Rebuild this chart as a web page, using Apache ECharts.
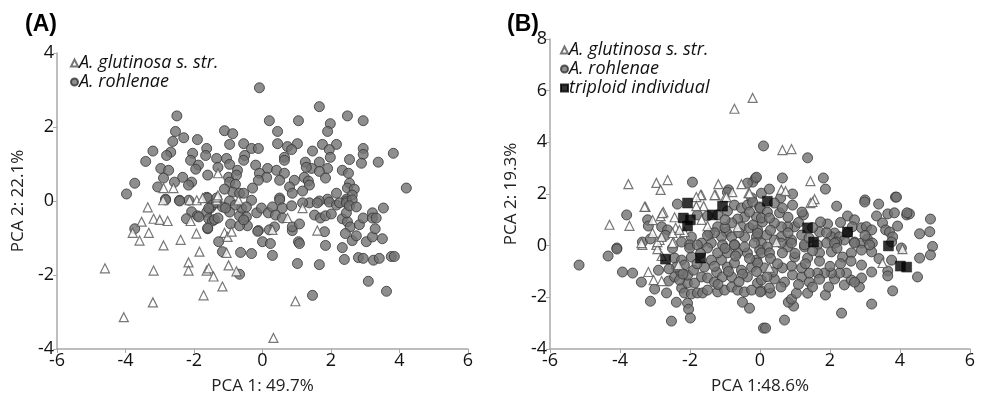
<!DOCTYPE html>
<html>
<head>
<meta charset="utf-8">
<script src="https://cdn.jsdelivr.net/npm/echarts@6/dist/echarts.min.js"></script>
<style>
html, body { margin: 0; padding: 0; background: #fff; }
#chart { width: 989px; height: 400px; }
</style>
</head>
<body>
<div id="chart"></div>
<script>
// panel A: A. glutinosa s. str. (triangles)
var glutA = [
  [-4.6,-1.82],[-4.05,-3.14],[-3.2,-2.74],[-3.18,-1.88],[-3.79,-0.86],[-3.59,-1.07],[-3.53,-0.56],
  [-3.35,-0.17],[-3.32,-0.86],[-3.18,-0.48],[-3.0,-0.51],[-2.77,-0.54],[-2.89,-1.2],[-2.9,0.02],
  [-2.39,-1.05],[-2.16,-1.66],[-2.16,-1.88],[-2.1,-0.54],[-1.93,-0.88],[-1.84,-1.37],[-1.72,-2.55],
  [-1.63,-1.88],[-1.57,-1.82],[-1.43,-2.04],[-1.17,-2.31],[-1.11,-0.86],[-1.05,-1.4],[-1.02,-0.97],
  [-0.99,-1.74],[-0.9,-0.83],[-0.76,-1.9],[0.29,-0.78],[0.32,-3.7],[0.73,-0.46],[0.96,-2.71],
  [1.17,-0.19],[1.6,-0.8],[-2.13,0.02],[-1.92,0.02],[-1.34,0.02],[-1.3,0.75],[-2.89,0.35],
  [-2.6,0.35],[-1.34,0.1],[-1.75,0.08],[-1.3,0.15],[-0.7,0.02]
];
// panel A: A. rohlenae (circles)
var rohlA = [
  [-0.09,3.06],[1.66,2.55],[-2.5,2.3],[2.48,2.3],[0.2,2.17],[1.05,2.17],[2.94,2.17],[1.98,2.09],
  [-2.54,1.88],[-1.11,1.9],[-0.87,1.82],[0.44,1.88],[1.9,1.88],[-2.3,1.71],[-1.9,1.66],[-2.62,1.61],
  [-0.96,1.53],[-0.55,1.55],[0.44,1.55],[0.73,1.47],[1.02,1.55],[1.75,1.53],[2.16,1.53],[2.94,1.42],
  [3.82,1.29],[-3.2,1.35],[-2.68,1.32],[-1.63,1.42],[-0.32,1.42],[-0.12,1.42],[0.85,1.39],[1.46,1.35],
  [1.95,1.39],[-2.8,1.23],[-2.04,1.29],[-1.66,1.23],[-0.52,1.23],[0.64,1.18],[1.98,1.18],[2.94,1.26],
  [2.54,1.12],[-3.41,1.07],[-2.1,1.1],[-1.34,1.15],[-1.05,1.15],[-0.55,1.1],[0.64,1.1],[1.25,1.05],
  [3.38,1.05],[2.89,1.02],[1.66,1.05],[-2.97,0.88],[-1.87,0.97],[-0.96,0.99],[-0.2,0.97],[0.15,0.88],
  [1.43,0.88],[1.9,0.88],[2.33,0.83],[-2.74,0.83],[-1.95,0.86],[-1.3,0.91],[-0.73,0.83],[0.41,0.83],
  [1.28,0.91],[1.66,0.8],[2.51,0.75],[-0.09,0.75],[0.64,0.75],[-2.33,0.64],[-2.89,0.62],[-1.6,0.7],
  [-0.99,0.64],[-0.76,0.7],[0.12,0.64],[0.5,0.56],[0.93,0.56],[1.22,0.64],[1.84,0.62],[-2.07,0.51],
  [-2.57,0.51],[-3.73,0.48],[-0.96,0.51],[-0.79,0.45],[-0.12,0.56],[1.34,0.54],[2.54,0.48],[4.2,0.35],
  [-2.16,0.43],[-3.06,0.38],[-0.29,0.35],[0.79,0.38],[1.37,0.43],[2.48,0.35],[2.68,0.32],[-3.97,0.19],
  [-0.87,0.24],[-0.67,0.21],[0.87,0.21],[1.17,0.27],[2.16,0.21],[2.62,0.16],[-1.11,0.32],[-0.55,0.21],
  [-1.63,0.1],[1.9,0.05],[2.45,0.05],[-2.83,0.05],[-2.42,0.02],[-2.15,0.02],[-1.6,0.08],[-1.34,0.08],
  [-0.96,0.0],[-0.32,0.02],[0.5,0.08],[1.66,0.0],[2.45,0.0],
  [-3.73,-0.75],[-2.83,0.03],[-2.42,0.0],[-2.07,-0.29],[-2.22,-0.48],[-1.9,-0.4],[-1.63,-0.3],
  [-1.52,-0.19],[-1.46,-0.11],[-1.34,-0.05],[-1.57,-0.48],[-1.46,-0.54],[-1.6,-0.75],[-1.28,-1.1],
  [-1.17,-1.37],[-1.17,-0.16],[-0.96,-0.3],[-0.93,-0.62],[-0.64,-1.39],[-0.32,-1.42],[-0.67,-1.98],
  [-0.67,-0.4],[-0.47,-0.43],[-0.44,-0.67],[-0.61,-0.19],[-0.47,-0.16],[-0.12,-0.8],[-0.17,-0.32],
  [-0.03,-0.19],[0.0,-1.1],[0.23,-1.15],[0.29,-1.47],[0.17,-0.32],[0.29,-0.16],[0.38,-0.38],[0.35,-0.7],
  [0.58,-0.46],[0.5,0.03],[0.87,-0.8],[0.87,-0.7],[1.08,-0.62],[1.05,-1.1],[1.08,-1.15],[1.02,-1.69],
  [1.46,-2.55],[1.66,-1.72],[1.37,-0.05],[1.6,-0.05],[1.52,-0.38],[1.69,-0.46],[1.84,-0.4],[1.81,-0.83],
  [1.84,-1.2],[2.01,-0.35],[1.95,-0.03],[2.16,-0.11],[2.25,-0.05],[2.45,-0.05],[2.62,0.03],[2.33,-0.48],
  [2.48,-0.56],[2.56,-0.7],[2.45,-0.32],[2.54,-0.13],[2.74,-0.16],[2.33,-1.26],[2.42,-0.88],[2.62,-1.07],
  [2.74,-0.94],[2.39,-1.58],[2.8,-1.53],[2.94,-1.55],[2.83,-0.64],[2.94,-0.46],[3.03,-1.1],[3.21,-0.32],
  [3.21,-0.46],[3.32,-0.46],[3.21,-0.97],[3.29,-0.75],[3.24,-1.6],[3.41,-1.55],[3.5,-1.02],[3.53,-0.19],
  [3.09,-2.17],[3.62,-2.44],[3.76,-1.5],[3.85,-1.5],
  [-1.86,-0.43],[-1.6,-0.73],[-1.57,-0.19],[-1.4,-0.5],[-1.3,-0.46],[-1.08,-0.19],[-0.79,-0.11],
  [-0.67,-0.67],[-0.55,-0.51],[-0.14,-0.82],[0.2,-0.78],[0.58,-0.19],[0.85,-0.13],[1.17,-0.05]
];
// panel B: A. glutinosa s. str. (triangles)
var glutB = [
  [-0.21,5.72],[-0.73,5.3],[0.64,3.7],[0.9,3.74],[-3.76,2.38],[-2.96,2.43],[-2.64,2.54],[-2.84,2.16],
  [-1.19,2.38],[-0.53,2.38],[1.44,2.5],[-0.79,2.07],[-1.27,1.96],[-1.67,1.96],[-0.33,2.03],[0.61,2.16],
  [0.73,2.11],[-1.0,1.88],[1.56,1.8],[1.44,1.65],[-4.3,0.81],[-3.73,0.77],[-3.27,1.5],[-2.76,1.3],
  [-2.84,1.14],[-2.44,1.1],[-1.7,1.96],[-1.82,1.88],[-1.61,1.53],[-1.82,1.53],[-1.3,1.96],[-0.96,1.88],
  [-0.3,2.03],[-2.41,0.69],[-2.16,0.53],[-3.07,0.49],[-2.87,0.22],[-2.47,0.14],[-2.96,0.03],[-0.64,0.72],
  [-1.5,0.76],[-1.67,1.0],[-3.36,0.03],[-2.93,-0.13],[-2.81,-0.4],[-2.5,0.1],[-3.19,-1.02],[-3.04,-1.33],
  [-2.81,-1.37],[-2.33,-0.75],[-3.3,1.5],[-3.39,0.1],[-2.93,0.14],[-2.81,0.34],[-2.5,0.49],[-2.3,0.61],
  [3.5,-0.67],[4.07,-0.13],[0.47,0.14],[0.27,-0.86],[1.5,1.69],[-3.07,0.99],[-2.79,1.26]
];
// panel B: A. rohlenae (circles)
var rohlB = [
  [0.1,3.86],[1.36,3.4],[-1.93,2.46],[-0.13,2.61],[-0.21,2.46],[0.64,2.62],[1.81,2.62],[1.87,2.19],
  [-0.9,2.16],[0.04,2.03],[0.27,2.19],[0.93,2.0],[-0.24,1.85],[0.59,1.85],[3.0,1.77],[3.87,1.88],
  [-2.36,1.61],[-3.81,1.19],[-3.21,1.0],[-3.19,0.76],[-2.81,0.73],[-2.64,0.61],[-3.36,0.14],[-3.13,0.26],
  [-4.09,-0.09],[-1.79,1.19],[-1.5,1.15],[-1.21,1.19],[-0.93,1.34],[-0.73,1.57],[-0.53,1.46],[-0.36,1.57],
  [-0.21,1.69],[-0.01,1.5],[-0.1,1.11],[-0.44,1.11],[-0.64,1.03],[-0.81,0.88],[-0.53,0.73],[-0.3,0.69],
  [-0.07,0.61],[0.07,0.92],[-0.96,0.53],[-1.21,0.73],[-1.44,0.49],[-1.1,0.34],[-0.81,0.34],[-0.44,0.34],
  [-0.1,0.34],[0.04,0.1],[-0.73,0.03],[-1.07,0.03],[-1.39,0.1],[-1.67,0.1],[-1.96,0.34],[-2.24,0.14],
  [-2.01,0.03],[-0.93,2.07],[-0.1,2.65],[-0.36,2.42],
  [0.93,1.57],[1.24,1.19],[2.19,1.53],[2.99,1.69],[3.39,1.61],[3.9,1.88],[3.33,1.15],[3.65,1.23],
  [3.84,1.27],[4.19,1.19],[4.27,1.23],[4.87,1.03],[4.93,-0.03],[3.5,0.88],[3.93,0.76],[2.5,1.15],
  [2.7,1.0],[2.64,0.73],[2.9,0.69],[3.04,0.73],[3.19,0.61],[3.59,0.61],[3.7,0.53],[3.79,0.34],
  [3.76,0.14],[1.93,0.84],[1.73,0.92],[2.13,0.49],[2.04,0.34],[2.27,0.34],[2.41,0.22],[2.19,0.14],
  [2.7,0.14],[2.9,0.1],[3.07,0.26],[3.21,0.1],[1.7,0.53],[1.9,0.1],[1.64,0.03],[1.19,0.41],
  [0.99,0.73],[0.79,0.73],[0.61,0.73],[0.41,0.88],[0.56,1.27],[0.64,1.46],[0.41,1.65],[0.01,1.46],
  [0.21,1.3],[0.04,1.07],[0.27,1.07],[0.61,0.34],[0.9,0.22],[0.41,0.22],[0.19,0.41],[-0.07,0.49],
  [0.21,-0.05],[0.79,-0.05],[1.27,-0.05],
  [-5.17,-0.75],[-4.34,-0.4],[-4.09,-0.13],[-3.93,-1.02],[-3.64,-1.06],[-3.39,-1.41],[-3.01,-1.68],
  [-3.13,-2.15],[-2.67,-1.83],[-2.9,-0.95],[-2.53,-2.92],[-2.39,-2.19],[-2.07,-2.23],[-2.04,-2.46],
  [-1.99,-2.8],[-2.61,-1.37],[-2.44,-1.21],[-2.27,-1.02],[-2.24,-1.64],[-2.16,-1.83],[-1.96,-1.87],
  [-1.79,-1.83],[-1.64,-1.83],[-1.5,-1.72],[-2.07,-1.45],[-1.87,-1.45],[-2.3,-1.33],[-2.07,-1.14],
  [-1.9,-0.95],[-2.44,-0.48],[-2.24,-0.56],[-2.39,-0.83],[-2.16,-0.75],[-1.96,-0.44],[-2.01,-0.09],
  [-1.79,0.03],[-1.5,-0.09],[-1.39,-0.56],[-1.59,-0.83],[-1.67,-1.21],[-1.5,-1.25],[-1.3,-1.41],
  [-1.24,-1.02],[-1.07,-1.21],[-1.21,-1.79],[-1.01,-1.72],[-0.81,-1.6],[-0.64,-1.72],[-0.5,-2.19],
  [-0.3,-2.42],[-0.44,-1.79],[-1.1,-0.56],[-0.93,-0.83],[-0.73,-0.67],[-0.53,-0.95],[-0.36,-1.21],
  [-0.24,-0.83],[-0.1,-0.56],[-0.07,-1.45],[-0.24,-1.72],[-0.81,-1.21],[-1.21,-0.28],[-0.93,-0.28],
  [-0.64,-0.28],[-0.36,-0.28],[-0.01,-0.17],[-0.73,0.03],[-0.44,-0.05],[-0.16,0.1],[0.1,-3.19],
  [0.16,-3.19],[0.7,-2.88],[0.96,-2.34],[0.81,-2.19],[0.9,-2.07],[1.04,-1.84],[1.36,-1.84],[1.87,-1.91],
  [2.33,-2.61],[3.19,-2.26],[3.79,-1.75],[4.5,-1.21],[0.04,-1.75],[0.3,-1.84],[0.41,-1.29],[0.04,-1.33],
  [0.27,-1.64],[0.7,-1.41],[0.93,-1.13],[1.19,-1.21],[1.41,-1.41],[1.5,-1.6],[1.96,-1.6],[2.13,-1.29],
  [2.41,-1.52],[2.61,-1.33],[2.84,-1.6],[2.9,-1.25],[2.7,-1.41],[2.47,-1.06],[2.27,-1.06],[2.04,-1.06],
  [1.84,-1.06],[1.64,-1.06],[1.41,-1.06],[1.19,-0.86],[0.9,-0.79],[0.64,-0.86],[0.36,-1.02],[0.13,-0.86],
  [-0.07,-0.67],[0.04,-0.28],[0.27,-0.28],[0.64,-0.28],[0.99,-0.44],[1.36,-0.48],[1.7,-0.28],[2.04,-0.24],
  [2.36,-0.44],[2.61,-0.28],[2.9,-0.17],[3.19,-0.24],[3.19,-1.02],[2.9,-0.75],[3.65,-0.98],[3.65,-1.17],
  [3.76,-0.56],[4.04,-0.09],[4.56,-0.48],[4.87,-0.36],[0.01,-1.79],[0.9,0.1],[1.27,0.03],[2.13,0.1],
  [2.7,0.1],[3.13,0.03],[4.56,0.46],[4.85,0.54],[4.2,1.27],
  [-1.3,0.5],[-1.0,0.7],[-0.6,0.5],[-0.2,0.8],[0.3,0.6],[0.8,0.5],[1.1,0.9],[1.5,0.7],[1.4,0.3],
  [0.6,0.1],[0.3,-0.5],[-0.3,-0.5],[-0.7,-0.4],[-1.0,-0.1],[-1.3,-0.8],[-0.9,-1.0],[-0.5,-1.1],
  [-0.1,-1.0],[0.5,-0.7],[1.0,-0.3],[1.3,-0.7],[1.7,-0.6],[2.0,-0.8],[2.3,-0.7],[2.2,-0.1],
  [1.9,0.5],[1.2,1.3],[0.8,1.1],[-0.3,1.3],[-1.0,1.0],[-1.5,0.4],[-1.7,-0.3],[-1.8,-0.7],
  [-1.2,-1.5],[-0.6,-1.4],[0.2,-1.2],[0.6,-1.6],[1.1,-1.5],[1.7,-1.3],[2.6,-0.6],[3.4,-0.5],
  [3.0,0.4],[2.5,0.5],[2.3,0.9],[1.5,-0.2],[-2.5,-0.1],[-2.6,-0.9],[-2.2,-1.1],[-2.7,0.4]
];
// panel B: triploid individual (squares)
var tripB = [
  [-2.07,1.65],[-1.07,1.53],[-1.36,1.19],[-2.19,1.07],[-1.99,1.0],[-2.07,0.76],[0.21,1.72],[1.36,0.69],
  [1.53,0.14],[2.5,0.53],[3.67,-0.01],[4.01,-0.79],[4.19,-0.83],[-2.7,-0.52],[-1.7,-0.48]
];

var FONT = '"Open Sans", "Noto Sans", sans-serif';
var circleStyle = { color: '#727272', borderColor: '#333', borderWidth: 1 };
var triStyle = { color: '#fff', borderColor: '#555', borderWidth: 1.2 };
var sqStyle = { color: '#000', borderColor: '#000', borderWidth: 0.5 };

function xAxis(idx, name) {
  return {
    gridIndex: idx, type: 'value', min: -6, max: 6, interval: 2,
    name: name, nameLocation: 'middle', nameGap: 29,
    nameTextStyle: { fontFamily: FONT, fontSize: 17, color: '#222' },
    axisLine: { onZero: false, lineStyle: { color: '#a8a8a8', width: 1.5 } },
    axisTick: { show: true, length: 4, lineStyle: { color: '#a8a8a8' } },
    axisLabel: { fontFamily: FONT, fontSize: 18, color: '#111', margin: 3 },
    splitLine: { show: false }
  };
}
function yAxis(idx, name, min, max) {
  return {
    gridIndex: idx, type: 'value', min: min, max: max, interval: 2,
    name: name, nameLocation: 'middle', nameGap: 30,
    nameTextStyle: { fontFamily: FONT, fontSize: 17, color: '#222' },
    axisLine: { onZero: false, lineStyle: { color: '#a8a8a8', width: 1.5 } },
    axisTick: { show: true, length: 4, lineStyle: { color: '#a8a8a8' } },
    axisLabel: { fontFamily: FONT, fontSize: 18, color: '#111', margin: 3 },
    splitLine: { show: false }
  };
}

var chart = echarts.init(document.getElementById('chart'));
chart.setOption({
  animation: false,
  title: [
    { text: '(A)', left: 20, top: 8, textStyle: { fontFamily: 'Liberation Sans', fontWeight: 'bold', fontSize: 23, color: '#000' } },
    { text: '(B)', left: 502, top: 8, textStyle: { fontFamily: 'Liberation Sans', fontWeight: 'bold', fontSize: 23, color: '#000' } }
  ],
  legend: [
    {
      left: 65, top: 49, orient: 'vertical', itemGap: 1, itemWidth: 7, itemHeight: 7,
      data: [{ name: 'A. glutinosa s. str.', icon: 'triangle' }, { name: 'A. rohlenae', icon: 'circle' }],
      textStyle: { fontFamily: FONT, fontStyle: 'italic', fontSize: 18, color: '#111', padding: [0, 0, 0, -4] },
      selectedMode: false
    },
    {
      left: 555, top: 36, orient: 'vertical', itemGap: 1, itemWidth: 7, itemHeight: 7,
      data: [{ name: 'A. glutinosa s. str. ', icon: 'triangle' }, { name: 'A. rohlenae ', icon: 'circle' },
             { name: 'triploid individual', icon: 'rect' }],
      formatter: function (n) { return n.trim(); },
      textStyle: { fontFamily: FONT, fontStyle: 'italic', fontSize: 18, color: '#111', padding: [0, 0, 0, -4] },
      selectedMode: false
    }
  ],
  grid: [
    { left: 57, top: 53, width: 411, height: 298 },
    { left: 550, top: 39, width: 420, height: 310 }
  ],
  xAxis: [xAxis(0, 'PCA 1: 49.7%'), xAxis(1, 'PCA 1:48.6%')],
  yAxis: [yAxis(0, 'PCA 2: 22.1%', -4, 4), yAxis(1, 'PCA 2: 19.3%', -4, 8)],
  series: [
    { name: 'A. rohlenae', type: 'scatter', xAxisIndex: 0, yAxisIndex: 0, data: rohlA,
      symbol: 'circle', symbolSize: 10, itemStyle: circleStyle },
    { name: 'A. glutinosa s. str.', type: 'scatter', xAxisIndex: 0, yAxisIndex: 0, data: glutA,
      symbol: 'triangle', symbolSize: 9, itemStyle: triStyle },
    { name: 'A. rohlenae ', type: 'scatter', xAxisIndex: 1, yAxisIndex: 1, data: rohlB,
      symbol: 'circle', symbolSize: 10, itemStyle: circleStyle },
    { name: 'A. glutinosa s. str. ', type: 'scatter', xAxisIndex: 1, yAxisIndex: 1, data: glutB,
      symbol: 'triangle', symbolSize: 9, itemStyle: triStyle },
    { name: 'triploid individual', type: 'scatter', xAxisIndex: 1, yAxisIndex: 1, data: tripB,
      symbol: 'rect', symbolSize: 10, itemStyle: sqStyle }
  ]
});
</script>
</body>
</html>
